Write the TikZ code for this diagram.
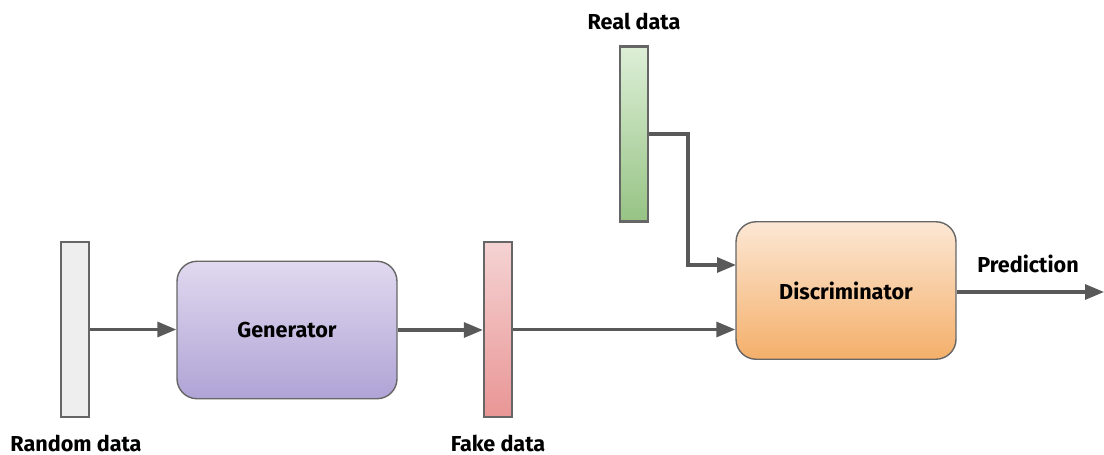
\documentclass[tikz,border=0pt]{standalone}
\usepackage{fontspec}
\setmainfont{Fira Sans}
\usepackage{tikz}
\usetikzlibrary{arrows.meta}
\definecolor{lineK}{HTML}{595959}
\definecolor{edgeK}{HTML}{666666}
\definecolor{rndF}{HTML}{EEEEEE}
\definecolor{genT}{HTML}{E0D9EF}
\definecolor{genB}{HTML}{B0A3D6}
\definecolor{fakeT}{HTML}{F5D3D3}
\definecolor{fakeB}{HTML}{E99595}
\definecolor{realT}{HTML}{DDEFD7}
\definecolor{realB}{HTML}{96C384}
\definecolor{discT}{HTML}{FCE7D4}
\definecolor{discB}{HTML}{F4AF6A}

\tikzset{
  databar/.style={draw=edgeK, line width=1.3pt, minimum width=0.56cm,
    minimum height=3.5cm, inner sep=0pt},
  netbox/.style={draw=edgeK, line width=0.8pt, rounded corners=0.4cm,
    minimum width=4.4cm, minimum height=2.75cm,
    font=\fontsize{12.3}{14}\selectfont\bfseries},
  flow/.style={draw=lineK, line width=1.8pt,
    -{Triangle[length=0.38cm, width=0.3cm]}},
  tag/.style={font=\fontsize{12.3}{14}\selectfont\bfseries, text=black,
    inner sep=1pt}
}

\begin{document}
\begin{tikzpicture}[x=0.02cm, y=-0.02cm]
  \path[use as bounding box] (0,0) rectangle (1104,455);

  % input noise, generator and its output
  \node[databar, fill=rndF] (rnd) at (75,329.5) {};
  \node[netbox, top color=genT, bottom color=genB] (gen) at (287,330) {Generator};
  \node[databar, top color=fakeT, bottom color=fakeB] (fake) at (498,329.5) {};

  % real samples and the discriminator
  \node[databar, top color=realT, bottom color=realB] (real) at (634,134) {};
  \node[netbox, top color=discT, bottom color=discB] (disc) at (846,290.5) {Discriminator};

  \node[tag] (rndlab) at (76,443) {Random data};
  \node[tag] (fakelab) at (498,443) {Fake data};
  \node[tag] (reallab) at (634,21) {Real data};
  \node[tag] (predlab) at (1028,264) {Prediction};

  \coordinate (bend) at (688,134);
  \coordinate (realin) at (736,265);
  \coordinate (out) at (1104,292);

  \draw[flow] (rnd.east) -- (gen.west |- rnd.east);
  \draw[flow] (gen.east) -- (fake.west |- gen.east);
  \draw[flow] (fake.east) -- (disc.west |- fake.east);
  \draw[flow] (real.east) -- (bend) |- (realin);
  \draw[flow] (disc.east |- out) -- (out);
\end{tikzpicture}
\end{document}
